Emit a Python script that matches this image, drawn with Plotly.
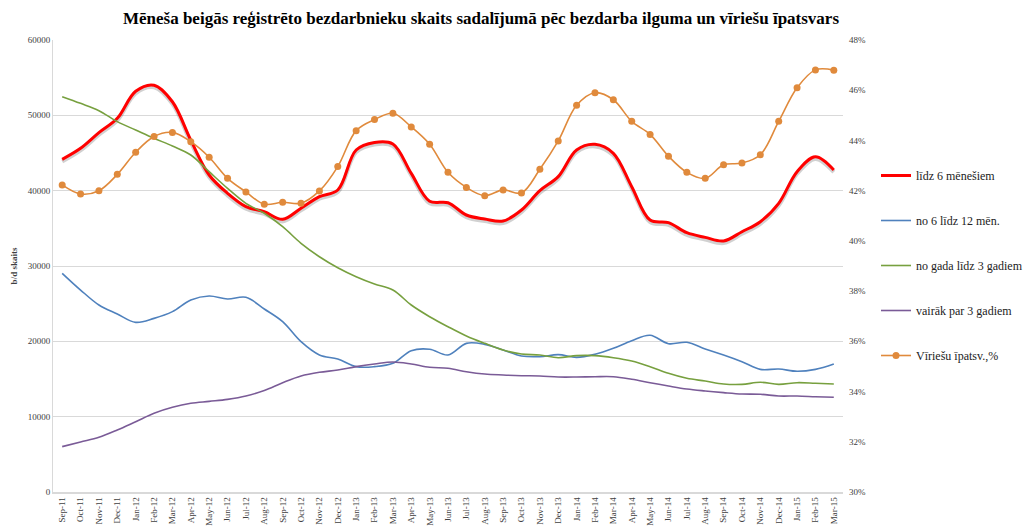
import plotly.graph_objects as go

months = ["Sep-11","Oct-11","Nov-11","Dec-11","Jan-12","Feb-12","Mar-12","Apr-12","May-12","Jun-12",
          "Jul-12","Aug-12","Sep-12","Oct-12","Nov-12","Dec-12","Jan-13","Feb-13","Mar-13","Apr-13",
          "May-13","Jun-13","Jul-13","Aug-13","Sep-13","Oct-13","Nov-13","Dec-13","Jan-14","Feb-14",
          "Mar-14","Apr-14","May-14","Jun-14","Jul-14","Aug-14","Sep-14","Oct-14","Nov-14","Dec-14",
          "Jan-15","Feb-15","Mar-15"]

lidz6 = [44160, 45620, 47700, 49600, 53200, 54000, 51800, 46700, 42080, 39650,
         37880, 37200, 36200, 37660, 39200, 40090, 45400, 46400, 46200, 42300,
         38600, 38400, 36770, 36240, 35970, 37430, 40000, 41860, 45400, 46150,
         44960, 40530, 36100, 35750, 34420, 33800, 33320, 34550, 35880, 38320,
         42520, 44500, 42740]

no6lidz12 = [29030, 26810, 24820, 23630, 22520, 23050, 23940, 25490, 26020, 25620,
             25840, 24290, 22610, 19950, 18190, 17650, 16640, 16640, 17080, 18760,
             18950, 18190, 19730, 19600, 18850, 18050, 17960, 18230, 17870, 18280,
             19070, 20090, 20800, 19690, 19870, 18980, 18190, 17300, 16280, 16330,
             16020, 16280, 16990]

gada3 = [52480, 51590, 50620, 49160, 48050, 46950, 45930, 44730, 42520, 40310,
         38320, 37000, 35220, 33010, 31230, 29770, 28580, 27610, 26810, 24820,
         23270, 21940, 20710, 19730, 18850, 18320, 18190, 17830, 18100, 18100,
         17830, 17390, 16640, 15750, 15090, 14730, 14340, 14290, 14560, 14290,
         14510, 14430, 14340]

virs3 = [6020, 6640, 7260, 8230, 9330, 10450, 11240, 11770, 12030, 12300,
         12740, 13480, 14510, 15400, 15890, 16190, 16640, 16990, 17260, 16990,
         16550, 16420, 15970, 15660, 15530, 15440, 15400, 15260, 15260, 15300,
         15300, 14960, 14510, 14070, 13670, 13410, 13190, 13010, 12970, 12740,
         12740, 12650, 12570]

virieshu = [42.23, 41.87, 42.00, 42.65, 43.53, 44.16, 44.32, 43.95, 43.33, 42.49,
            41.95, 41.46, 41.54, 41.50, 41.99, 42.96, 44.39, 44.83, 45.08, 44.54,
            43.85, 42.73, 42.13, 41.80, 42.03, 41.91, 42.85, 43.98, 45.40, 45.90,
            45.62, 44.76, 44.24, 43.37, 42.73, 42.49, 43.03, 43.10, 43.43, 44.76,
            46.10, 46.81, 46.80]

names = ["līdz 6 mēnešiem", "no 6 līdz 12 mēn.", "no gada līdz 3 gadiem",
         "vairāk par 3 gadiem", "Vīriešu īpatsv.,%"]

FONT = "Liberation Serif"

fig = go.Figure()

# soft shadow under red line
fig.add_trace(go.Scatter(x=months, y=[v - 280 for v in lidz6], mode="lines",
                         line=dict(color="rgba(0,0,0,0.18)", width=4, shape="spline", smoothing=1),
                         showlegend=False, hoverinfo="skip"))

fig.add_trace(go.Scatter(x=months, y=lidz6, name=names[0], mode="lines",
                         line=dict(color="#ff0000", width=3, shape="spline", smoothing=1),
                         legendgroup="a"))
fig.add_trace(go.Scatter(x=months, y=no6lidz12, name=names[1], mode="lines",
                         line=dict(color="#4f81bd", width=1.6, shape="spline", smoothing=1),
                         legendgroup="b"))
fig.add_trace(go.Scatter(x=months, y=gada3, name=names[2], mode="lines",
                         line=dict(color="#77a03f", width=1.6, shape="spline", smoothing=1),
                         legendgroup="c"))
fig.add_trace(go.Scatter(x=months, y=virs3, name=names[3], mode="lines",
                         line=dict(color="#7a5b97", width=1.6, shape="spline", smoothing=1),
                         legendgroup="d"))
fig.add_trace(go.Scatter(x=months, y=virieshu, name=names[4], mode="lines+markers",
                         line=dict(color="#e08a3c", width=1.6, shape="spline", smoothing=1),
                         marker=dict(color="#e08a3c", size=7),
                         yaxis="y2", legendgroup="e"))

fig.update_layout(
    width=1031, height=528,
    margin=dict(l=53, r=188, t=40, b=36, autoexpand=False),
    paper_bgcolor="white", plot_bgcolor="white",
    font=dict(family=FONT, size=9, color="#404040"),
    title=dict(text="<b>Mēneša beigās reģistrēto bezdarbnieku skaits sadalījumā pēc bezdarba ilguma un vīriešu īpatsvars</b>",
               x=481/1031, xanchor="center", y=1-18/528, yanchor="middle",
               font=dict(family=FONT, size=17, color="#000000")),
    xaxis=dict(type="category", range=[-0.5, 42.5], tickangle=-90,
               showgrid=False, showline=True, linecolor="#d9d9d9", linewidth=1.5,
               ticks="", tickfont=dict(family=FONT, size=9, color="#404040")),
    yaxis=dict(range=[0, 60000], dtick=10000, tickformat="d", showgrid=True, gridcolor="#d9d9d9",
               showline=True, linecolor="#d9d9d9", zeroline=False, ticks="",
               tickfont=dict(family=FONT, size=9, color="#404040"),
               title=dict(text="<b>b/d skaits</b>", font=dict(family=FONT, size=9, color="#404040"), standoff=8)),
    yaxis2=dict(range=[30, 48], dtick=2, ticksuffix="%", overlaying="y", side="right",
                showgrid=False, showline=False, zeroline=False, ticks="",
                ticklabelstandoff=5,
                tickfont=dict(family=FONT, size=9, color="#404040")),
    legend=dict(xref="container", yref="container", x=876/1031, xanchor="left",
                y=1-161/528, yanchor="top",
                font=dict(family=FONT, size=12, color="#222222"),
                tracegroupgap=26, bgcolor="rgba(0,0,0,0)"),
    showlegend=True,
)

fig.write_html("out.html", config={"displayModeBar": False},
               post_script="document.body.style.margin='0';document.body.style.overflow='hidden';")
